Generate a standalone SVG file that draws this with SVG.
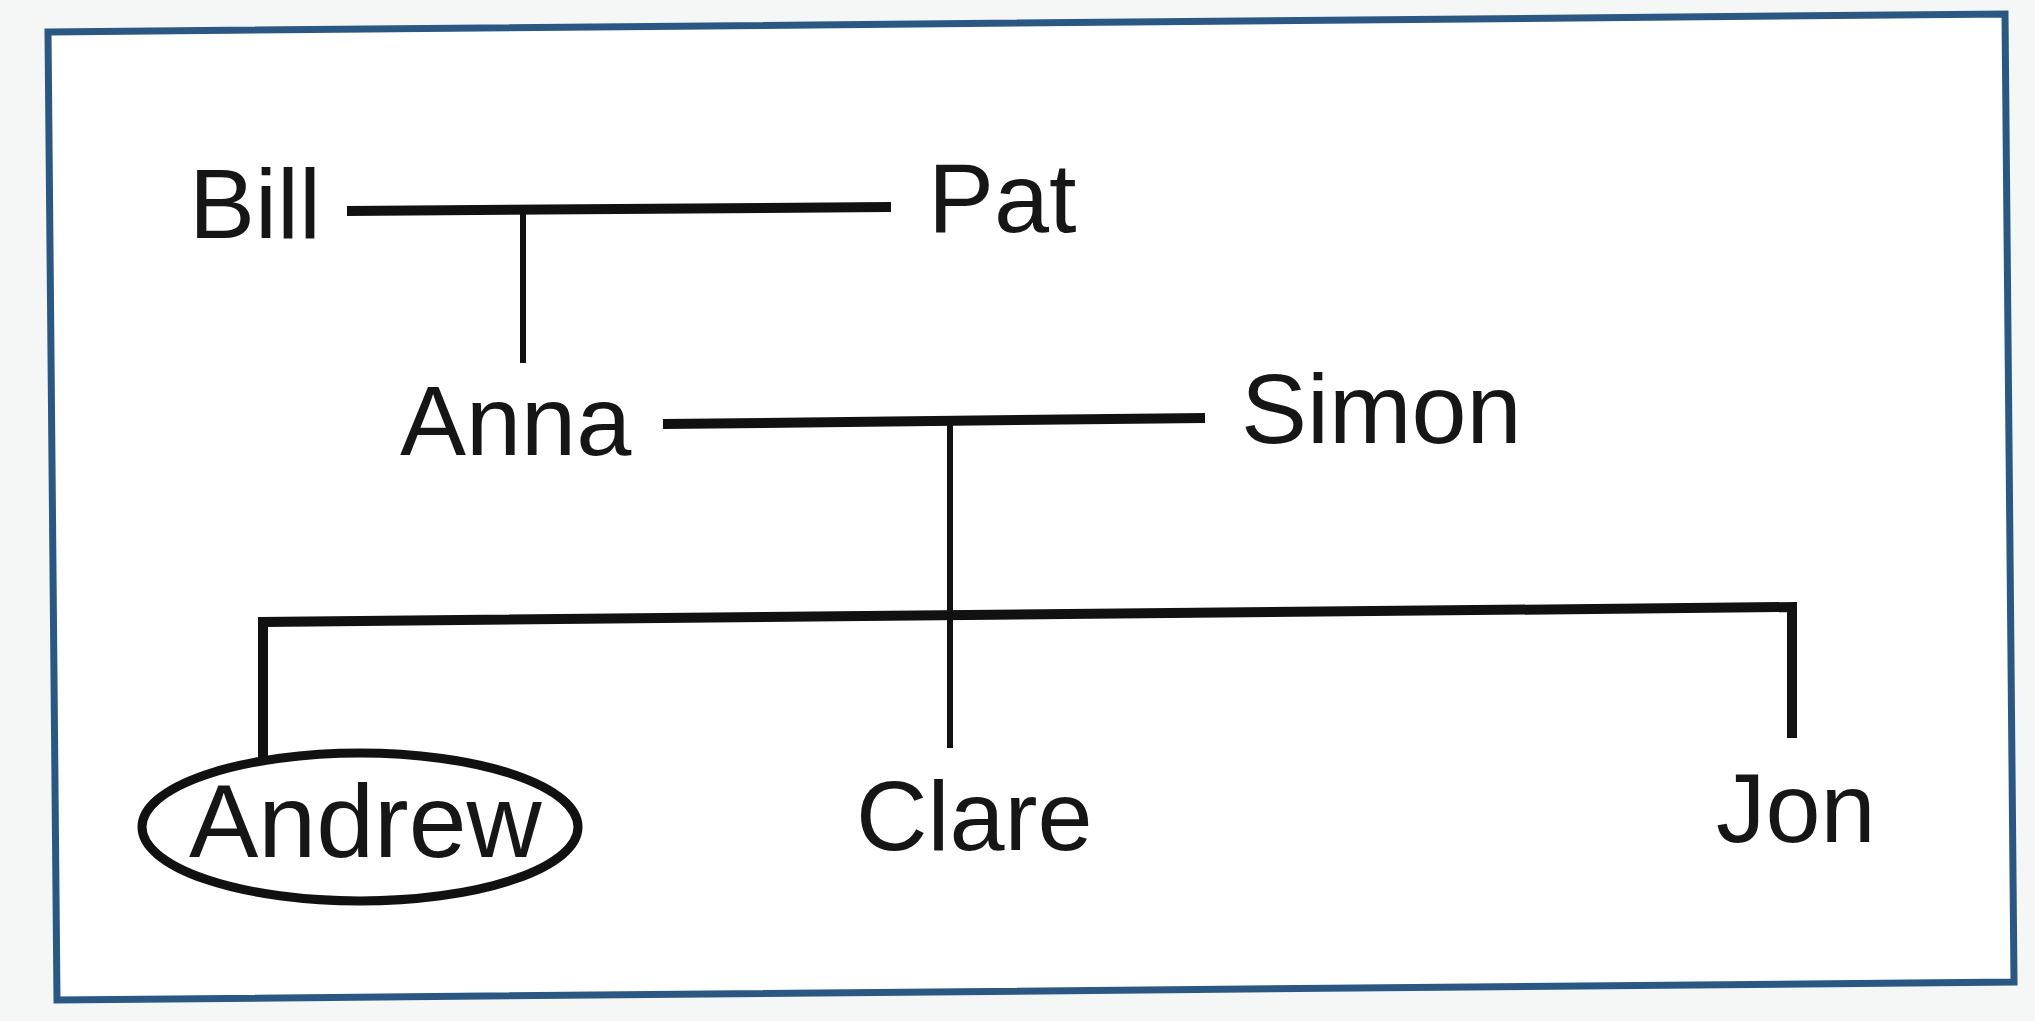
<svg xmlns="http://www.w3.org/2000/svg" width="2035" height="1021" viewBox="0 0 2035 1021">
<style>
.name{font-family:"Liberation Sans",Arial,sans-serif;font-size:99px;fill:#161616}
.bar{stroke:#111;stroke-width:10;fill:none;stroke-linejoin:miter}
.stem{stroke:#111;stroke-width:6;fill:none}
</style>
<rect x="0" y="0" width="2035" height="1021" fill="#f5f6f6"/>
<polygon id="frame" points="48,32 2005,14 2014,982 57,1000" fill="#ffffff" stroke="#2b5883" stroke-width="7"/>
<g id="connectors">
<line class="bar" x1="347" y1="211" x2="891" y2="207"/>
<line class="stem" x1="523" y1="210" x2="523" y2="363"/>
<line class="bar" x1="663" y1="424" x2="1205" y2="418"/>
<line class="stem" x1="950" y1="421" x2="950" y2="748"/>
<polyline class="bar" points="263,757 263,622 1792,607 1792,738"/>
</g>
<g id="bill"><text class="name" x="189" y="238">Bill</text></g>
<g id="pat"><text class="name" x="928" y="232">Pat</text></g>
<g id="anna"><text class="name" x="400" y="455">Anna</text></g>
<g id="simon"><text class="name" x="1241" y="443">Simon</text></g>
<g id="andrew">
<ellipse cx="360" cy="827" rx="218" ry="74" fill="none" stroke="#111" stroke-width="9"/>
<text class="name" x="189" y="857" style="font-size:104px">Andrew</text>
</g>
<g id="clare"><text class="name" x="856" y="850">Clare</text></g>
<g id="jon"><text class="name" x="1716" y="842">Jon</text></g>
</svg>
